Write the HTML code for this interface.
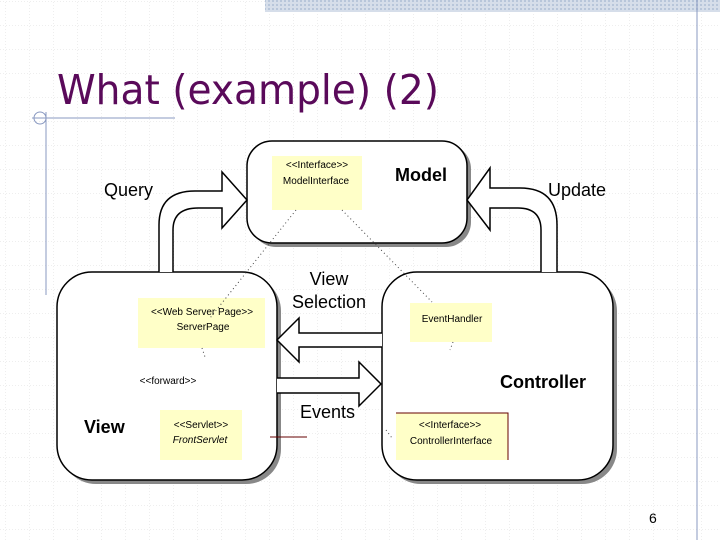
<!DOCTYPE html>
<html><head><meta charset="utf-8"><style>
body{margin:0;width:720px;height:540px;overflow:hidden;background:#fff}
svg{display:block}
</style></head><body>
<svg width="720" height="540" viewBox="0 0 720 540" xmlns="http://www.w3.org/2000/svg">
<defs>
<pattern id="g" width="24" height="24" patternUnits="userSpaceOnUse" x="6" y="2">
<path d="M24 0V24M0 24H24" fill="none" stroke="#dcdcdc" stroke-width="1" stroke-dasharray="1,2"/>
</pattern>
<pattern id="b" width="4" height="4" patternUnits="userSpaceOnUse">
<rect width="4" height="4" fill="#d6deea"/><rect width="2" height="2" fill="#b8c6da"/>
</pattern>
</defs>
<rect width="720" height="540" fill="url(#g)"/>
<rect x="265" y="0" width="455" height="12" fill="url(#b)"/>
<line x1="697" y1="0" x2="697" y2="540" stroke="#8898c0" stroke-width="1"/>
<line x1="32" y1="118" x2="175" y2="118" stroke="#8898c0" stroke-width="1"/>
<line x1="46" y1="112" x2="46" y2="295" stroke="#8898c0" stroke-width="1"/>
<circle cx="40" cy="118" r="6" fill="none" stroke="#8898c0" stroke-width="1"/>
<text x="57" y="104" font-family="DejaVu Sans, sans-serif" font-size="41" fill="#5a0a5a" textLength="382" lengthAdjust="spacingAndGlyphs">What (example) (2)</text>

<g stroke="#000" stroke-width="1.5">
<rect x="251" y="144" width="220" height="103" rx="25" fill="#888" stroke="none"/>
<rect x="61" y="276" width="220" height="208" rx="35" fill="#888" stroke="none"/>
<rect x="386" y="276" width="231" height="208" rx="35" fill="#888" stroke="none"/>
<rect x="247" y="141" width="220" height="102" rx="25" fill="#fff"/>
<rect x="57" y="272" width="220" height="208" rx="35" fill="#fff"/>
<rect x="382" y="272" width="231" height="208" rx="35" fill="#fff"/>
<path d="M159 272 V225 Q159 191 195 191 H222 V172 L247 200 L222 228 V208 H198 Q173 208 173 230 V272" fill="#fff"/>
<path d="M557 272 V225 Q557 188 520 188 H490 V168 L467 200 L490 230 V208 H518 Q541 208 541 230 V272" fill="#fff"/>
<path d="M382 333 H299 V318 L277 340 L299 362 V347 H382" fill="#fff"/>
<path d="M277 378 H359 V362 L381 384 L359 406 V393 H277" fill="#fff"/>
</g>

<g fill="#ffffc8">
<rect x="272" y="156" width="90" height="54"/>
<rect x="138" y="298" width="127" height="50"/>
<rect x="410" y="303" width="82" height="39"/>
<rect x="396" y="413" width="112" height="47"/>
<rect x="160" y="410" width="82" height="50"/>
</g>
<path d="M396 413 H508 V460" fill="none" stroke="#600" stroke-width="1"/>
<line x1="270" y1="437" x2="307" y2="437" stroke="#600" stroke-width="1"/>
<g stroke="#444" stroke-width="1" stroke-dasharray="1,3" fill="none">
<line x1="296" y1="210" x2="210" y2="318"/>
<line x1="342" y1="210" x2="432" y2="302"/>
<line x1="453" y1="342" x2="450" y2="350"/>
<line x1="202" y1="348" x2="205" y2="357"/>
<line x1="386" y1="430" x2="392" y2="438"/>
</g>
<g font-family="Liberation Sans, sans-serif" fill="#000">
<g font-size="10">
<text x="317" y="168" text-anchor="middle">&lt;&lt;Interface&gt;&gt;</text>
<text x="316" y="184" text-anchor="middle">ModelInterface</text>
<text x="202" y="315" text-anchor="middle">&lt;&lt;Web Server Page&gt;&gt;</text>
<text x="203" y="330" text-anchor="middle">ServerPage</text>
<text x="452" y="322" text-anchor="middle">EventHandler</text>
<text x="450" y="428" text-anchor="middle">&lt;&lt;Interface&gt;&gt;</text>
<text x="451" y="444" text-anchor="middle">ControllerInterface</text>
<text x="201" y="428" text-anchor="middle">&lt;&lt;Servlet&gt;&gt;</text>
<text x="200" y="443" text-anchor="middle" font-style="italic">FrontServlet</text>
<text x="168" y="384" text-anchor="middle">&lt;&lt;forward&gt;&gt;</text>
</g>
<g font-size="18">
<text x="104" y="196">Query</text>
<text x="548" y="196">Update</text>
<text x="329" y="285" text-anchor="middle">View</text>
<text x="329" y="308" text-anchor="middle">Selection</text>
<text x="300" y="418">Events</text>
</g>
<g font-size="18" font-weight="bold">
<text x="395" y="181">Model</text>
<text x="500" y="388">Controller</text>
<text x="84" y="433">View</text>
</g>
<text x="649" y="523" font-size="14">6</text>
</g>
</svg>
</body></html>
